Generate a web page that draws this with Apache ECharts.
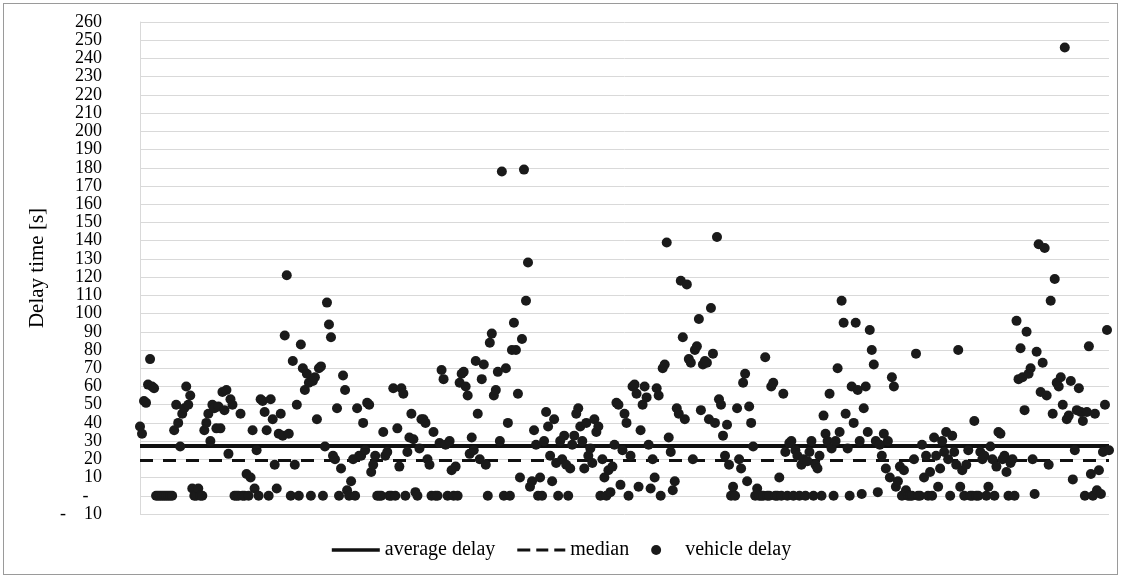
<!DOCTYPE html>
<html><head><meta charset="utf-8">
<script src="https://cdn.jsdelivr.net/npm/echarts@6/dist/echarts.min.js"></script>
<style>
html,body{margin:0;padding:0;background:#fff;}
#wrap{position:absolute;left:3px;top:3px;width:1115px;height:572px;border:1px solid #9a9a9a;box-sizing:border-box;}
#chart{position:absolute;left:-4px;top:-4px;width:1123px;height:579px;}
</style></head>
<body><div id="wrap"><div id="chart"></div></div>
<script>
// vehicle delays [s], in order of vehicles
const delaysA = [38,34,52,51,61,75,60,59,0,0, 0,0,0,0,0,0,0,36,50,40, 27,45,48,60,50,55,4,0,0,4, 0,0,36,40,45,30,50,48,37,49, 37,57,47,58,23,53,50,0,0,0,
  45,0,0,12,0,10,36,4,25,0, 53,52,46,36,0,53,42,17,4,34, 45,33,88,121,34,0,74,17,50,0, 83,70,58,67,62,0,63,65,42,70, 71,0,27,106,94,87,22,20,48,0];
const delaysB = [15,66,58,3,0,8,20,0,48,22, 22,40,25,51,50,13,17,22,0,0, 0,35,22,24,0,0,59,0,37,16, 59,56,0,24,32,45,31,2,0,26, 42,42,40,20,17,0,35,0,0,29,
  69,64,28,0,30,14,0,16,0,62, 67,68,60,55,23,32,25,74,45,20, 64,72,17,0,84,89,55,58,68,30, 178,0,70,40,0,80,95,80,56,10, 86,179,107,128,5,8,36,28,0,10];
const delaysC = [0,30,46,38,22,8,42,18,0,30, 20,33,17,0,15,28,33,45,48,38, 30,15,40,22,26,18,42,35,38,0, 20,10,0,14,2,16,28,51,50,6, 25,45,40,0,22,60,61,56,5,36,
  50,60,54,28,4,20,10,59,55,0, 70,72,139,32,24,3,8,48,45,118, 87,42,116,75,73,20,80,82,97,47, 72,74,73,42,103,78,40,142,53,50, 33,22,39,17,0,5,0,48,20,15];
const delaysD = [62,67,8,49,40,27,0,4,0,0, 0,76,0,0,60,62,0,0,10,0, 56,24,0,29,30,0,25,22,0,17, 20,0,19,24,30,0,17,15,22,0, 44,34,30,56,26,0,30,70,35,107,
  95,45,26,0,60,40,95,58,30,1, 48,60,35,91,80,72,30,2,28,22, 34,15,30,10,65,60,5,8,16,0, 14,3,0,0,0,20,78,0,0,28, 10,22,0,13,0,32,22,5,15,30];
const delaysE = [24,35,20,0,33,24,17,80,5,14, 0,17,25,0,0,41,0,0,24,20, 22,0,5,27,20,0,16,35,34,20, 22,13,0,18,20,0,96,64,81,65, 47,90,67,70,20,1,79,138,57,73,
  136,55,17,107,45,119,62,60,65,50, 246,42,44,63,9,25,47,59,46,41, 0,46,82,12,0,45,3,14,1,24, 50,91,25];
const vehicleDelay = delaysA.concat(delaysB, delaysC, delaysD, delaysE);
const averageDelay = 27.5;
const medianDelay = 19.5;
const yTicks = {min: -10, max: 260, step: 10};
const seriesNames = ['average delay', 'median', 'vehicle delay'];
const categories = vehicleDelay.map((v, i) => String(i + 1));

const chart = echarts.init(document.getElementById('chart'), null, {renderer: 'canvas'});
const font = '"Liberation Serif","Times New Roman",serif';
const solidIcon = 'path://M0,0 L48,0 L48,3.5 L0,3.5 Z';
const dashIcon = 'path://M0,0 L13,0 L13,3 L0,3 Z M19,0 L31,0 L31,3 L19,3 Z M37,0 L48,0 L48,3 L37,3 Z';
chart.setOption({
  animation: false,
  textStyle: {fontFamily: font, color: '#000'},
  grid: {left: 140, right: 14, top: 22, bottom: 65, containLabel: false},
  xAxis: {
    type: 'category', data: categories, boundaryGap: false,
    axisLine: {show: false}, axisTick: {show: false}, axisLabel: {show: false}, splitLine: {show: false}
  },
  yAxis: {
    type: 'value', min: yTicks.min, max: yTicks.max, interval: yTicks.step,
    name: 'Delay time [s]', nameLocation: 'middle', nameGap: 92, nameRotate: 90, nameMoveOverlap: false,
    nameTextStyle: {fontFamily: font, fontSize: 21, color: '#000'},
    axisLine: {show: true, lineStyle: {color: '#d9d9d9', width: 1}},
    axisTick: {show: false},
    axisLabel: {fontFamily: font, fontSize: 18, color: '#000', margin: 38,
      formatter: v => v === 0 ? '-   ' : (v < 0 ? '-    ' + Math.abs(v) : String(v))},
    splitLine: {show: true, lineStyle: {color: '#d9d9d9', width: 1}}
  },
  legend: {
    bottom: 14, left: 'center', itemGap: 22, itemWidth: 48, itemHeight: 10, symbolKeepAspect: true,
    textStyle: {fontFamily: font, fontSize: 20, color: '#000'},
    data: [
      {name: seriesNames[0], icon: solidIcon, itemStyle: {color: '#111'}},
      {name: seriesNames[1], icon: dashIcon, itemStyle: {color: '#111'}},
      {name: seriesNames[2], icon: 'circle', itemStyle: {color: '#1a1a1a'}}
    ]
  },
  series: [
    {
      name: seriesNames[0], type: 'line', data: [], symbol: 'none', showSymbol: false,
      lineStyle: {color: '#111', width: 3.5, type: 'solid'}, itemStyle: {color: '#111'},
      markLine: {silent: true, symbol: 'none', label: {show: false}, z: 1,
        lineStyle: {color: '#111', width: 4, type: 'solid'}, data: [{yAxis: averageDelay}]}
    },
    {
      name: seriesNames[1], type: 'line', data: [], symbol: 'none', showSymbol: false,
      lineStyle: {color: '#111', width: 3, type: [13, 10]}, itemStyle: {color: '#111'},
      markLine: {silent: true, symbol: 'none', label: {show: false}, z: 1,
        lineStyle: {color: '#111', width: 3, type: [13, 10]}, data: [{yAxis: medianDelay}]}
    },
    {
      name: seriesNames[2], type: 'scatter', data: vehicleDelay, symbol: 'circle', symbolSize: 10,
      itemStyle: {color: '#1a1a1a', opacity: 1}, z: 3
    }
  ]
});
</script></body></html>
